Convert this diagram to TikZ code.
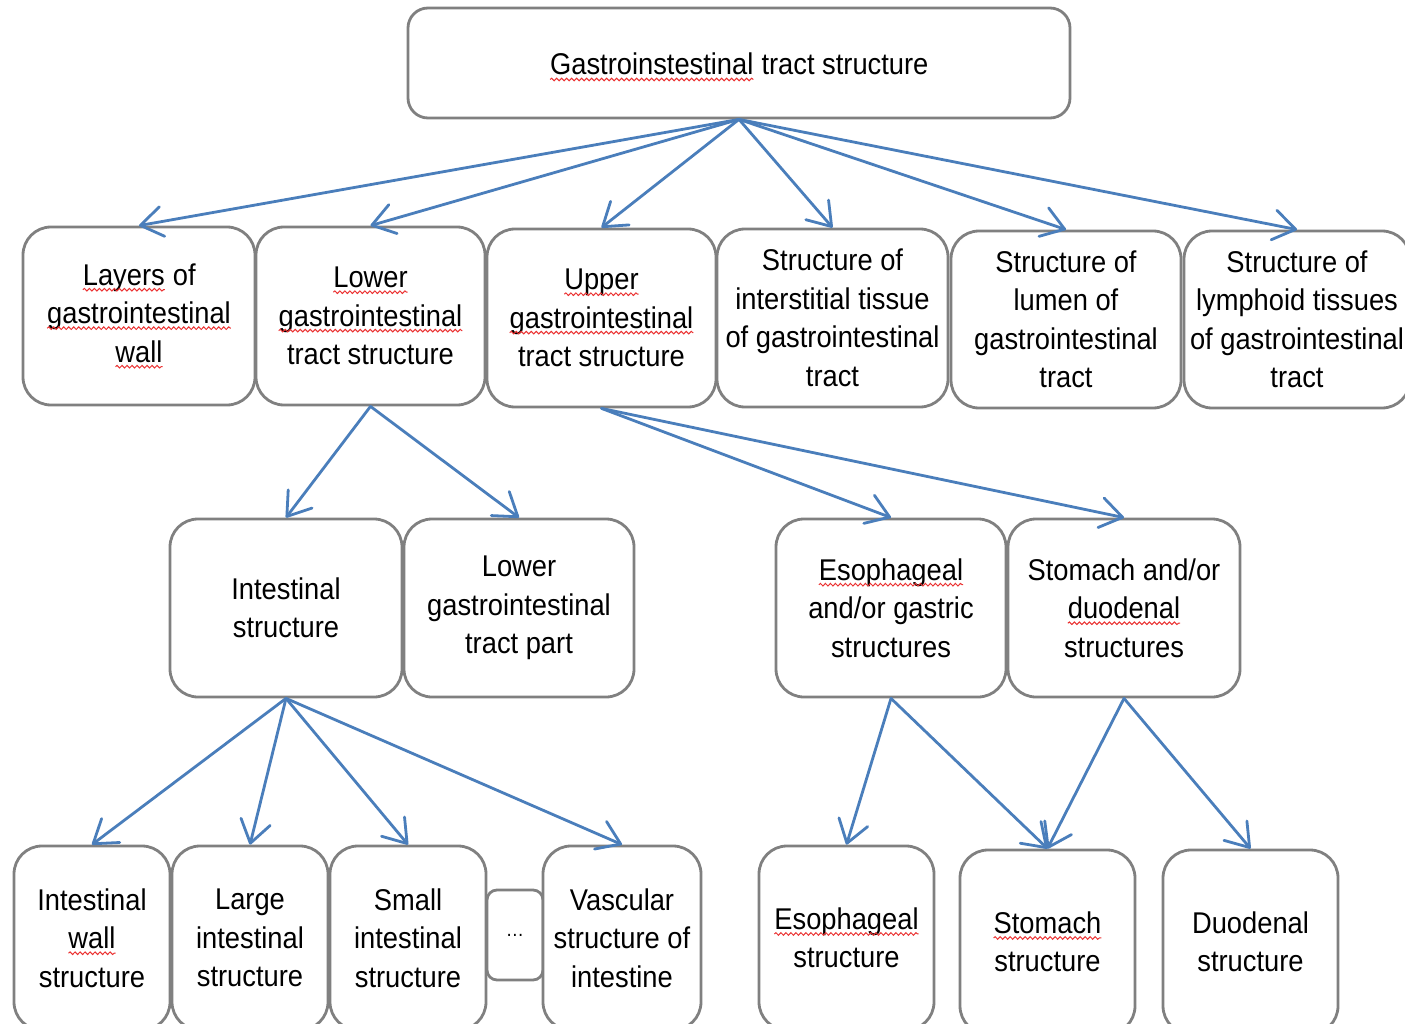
\documentclass[tikz,border=0pt]{standalone}
\usepackage{fontspec}
\setmainfont{Liberation Sans}[FakeStretch=0.91]
\usetikzlibrary{arrows.meta,decorations.pathmorphing}
\definecolor{arrowblue}{RGB}{74,126,187}
\definecolor{boxgray}{RGB}{128,128,128}
\definecolor{squigred}{RGB}{235,50,50}
\tikzset{sqreset/.style={draw=none, fill=none, minimum width=0pt, minimum height=0pt,
  inner sep=0pt, outer sep=0pt, sharp corners}}
\newcommand\sq[1]{\tikz[baseline=(w.base),x=1pt,y=1pt]{%
  \node[sqreset](w){#1};%
  \draw[squigred, line width=1pt, sharp corners, decorate,
    decoration={snake, amplitude=1.3pt, segment length=5pt}]
    ([yshift=-4.5pt]w.base west) -- ([yshift=-4.5pt]w.base east);}}
\begin{document}
\begin{tikzpicture}[x=1pt,y=-1pt,
  box/.style={draw=boxgray, line width=2.8pt, rounded corners=28pt, fill=white,
    align=center, inner sep=0pt, font=\fontsize{30}{38.5}\selectfont},
  arr/.style={draw=arrowblue, line width=2.8pt, line cap=round,
    -{Straight Barb[length=22pt,width=30pt,round]}}]
\useasboundingbox (0,0) rectangle (1405,1024);
\clip (0,0) rectangle (1405,1024);
% top
\node[box, minimum width=662pt, minimum height=110pt, rounded corners=20pt] (top) at (739,63)
  {\raisebox{-4pt}[22pt][6pt]{\sq{Gastroinstestinal} tract structure}};
% row 2
\node[box, minimum width=232pt, minimum height=178pt] (layers) at (139,316)
  {\sq{Layers} of\\\sq{gastrointestinal}\\\sq{wall}};
\node[box, minimum width=229pt, minimum height=178pt] (lower) at (370.5,316)
  {\sq{Lower}\\\sq{gastrointestinal}\\tract structure};
\node[box, minimum width=229pt, minimum height=178pt] (upper) at (601.5,318)
  {\sq{Upper}\\\sq{gastrointestinal}\\tract structure};
\node[box, minimum width=231pt, minimum height=178pt] (inter) at (832.5,318)
  {Structure of\\interstitial tissue\\of gastrointestinal\\tract};
\node[box, minimum width=230pt, minimum height=177pt] (lumen) at (1066,319.5)
  {Structure of\\lumen of\\gastrointestinal\\tract};
\node[box, minimum width=226pt, minimum height=177pt] (lymph) at (1297,319.5)
  {Structure of\\lymphoid tissues\\of gastrointestinal\\tract};
% row 3
\node[box, minimum width=232pt, minimum height=178pt] (intest) at (286,608)
  {Intestinal\\structure};
\node[box, minimum width=230pt, minimum height=178pt] (lowpart) at (519,608)
  {Lower\\gastrointestinal\\tract part};
\node[box, minimum width=230pt, minimum height=178pt] (esogas) at (891,608)
  {\sq{Esophageal}\\and/or gastric\\structures};
\node[box, minimum width=232pt, minimum height=178pt] (stoduo) at (1124,608)
  {Stomach and/or\\\sq{duodenal}\\structures};
% row 4
\node[box, minimum width=156pt, minimum height=184pt] (iwall) at (92,938)
  {Intestinal\\\sq{wall}\\structure};
\node[box, minimum width=156pt, minimum height=184pt] (large) at (250,938)
  {Large\\intestinal\\structure};
\node[box, minimum width=156pt, minimum height=184pt] (small) at (408,938)
  {Small\\intestinal\\structure};
\node[box, minimum width=56pt, minimum height=90pt, rounded corners=10pt,
  font=\fontsize{20}{24}\selectfont] (dots) at (515,935) {…};
\node[box, minimum width=158pt, minimum height=184pt] (vasc) at (622,938)
  {Vascular\\structure of\\intestine};
\node[box, minimum width=175pt, minimum height=184pt] (eso) at (846.5,938)
  {\sq{Esophageal}\\structure};
\node[box, minimum width=175pt, minimum height=184pt] (stom) at (1047.5,942)
  {\sq{Stomach}\\structure};
\node[box, minimum width=175pt, minimum height=184pt] (duod) at (1250.5,942)
  {Duodenal\\structure};
% connectors
\foreach \t in {layers,lower,upper,inter,lumen,lymph}
  \draw[arr] (top.south) -- (\t.north);
\draw[arr] (lower.south) -- (intest.north);
\draw[arr] (lower.south) -- (lowpart.north);
\draw[arr] (upper.south) -- (esogas.north);
\draw[arr] (upper.south) -- (stoduo.north);
\foreach \t in {iwall,large,small,vasc}
  \draw[arr] (intest.south) -- (\t.north);
\draw[arr] (esogas.south) -- (eso.north);
\draw[arr] (esogas.south) -- (stom.north);
\draw[arr] (stoduo.south) -- (stom.north);
\draw[arr] (stoduo.south) -- (duod.north);
\end{tikzpicture}
\end{document}
